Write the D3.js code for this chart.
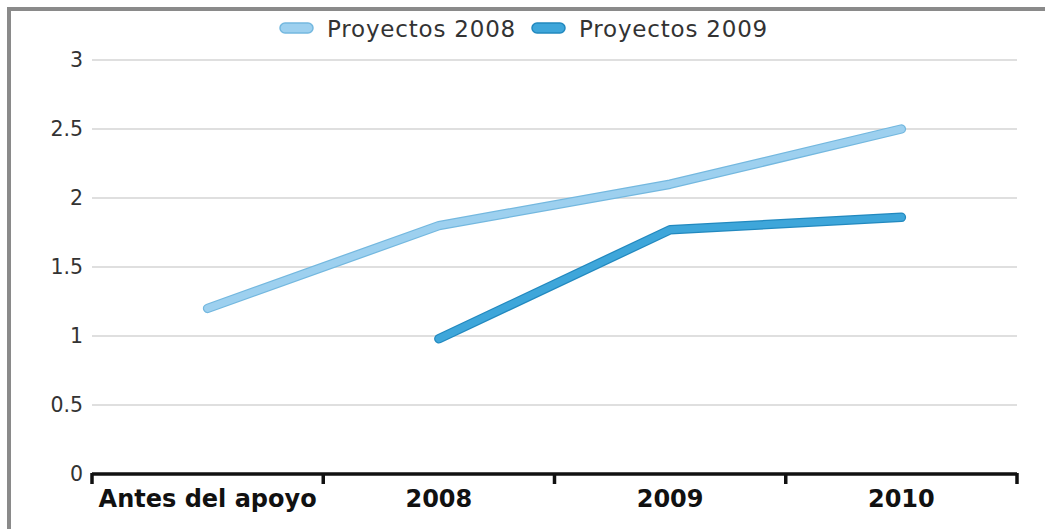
<!DOCTYPE html>
<html>
<head>
<meta charset="utf-8">
<script src="https://cdn.jsdelivr.net/npm/d3@7"></script>
<style>
  html, body { margin: 0; padding: 0; background: #fff; }
  svg { display: block; font-family: "DejaVu Sans", Verdana, sans-serif; }
</style>
</head>
<body>
<svg id="chart" width="1045" height="529"></svg>
<script>
// Categories and series
const categories = ["Antes del apoyo", "2008", "2009", "2010"];
const seriesNames = ["Proyectos 2008", "Proyectos 2009"];
const proyectos2008 = [1.2, 1.8, 2.1, 2.5];
const proyectos2009 = [null, 0.98, 1.77, 1.86];
const yTicks = [0, 0.5, 1, 1.5, 2, 2.5, 3];
const yTickLabels = ["0", "0.5", "1", "1.5", "2", "2.5", "3"];

const colors = [
  { fill: "#9dd0ef", edge: "#74b8df" },
  { fill: "#3ea6da", edge: "#2289bf" }
];

const svg = d3.select("#chart");
const W = 1045, H = 529;
const margin = { left: 92, right: 28, top: 60, bottom: 55 };

// Frame
svg.append("rect").attr("x", 0).attr("y", 0).attr("width", W).attr("height", H).attr("fill", "#fff");
svg.append("line").attr("x1", 7).attr("x2", W).attr("y1", 9).attr("y2", 9)
  .attr("stroke", "#8a8a8a").attr("stroke-width", 4);
svg.append("line").attr("x1", 9).attr("x2", 9).attr("y1", 7).attr("y2", H)
  .attr("stroke", "#8a8a8a").attr("stroke-width", 4);

const x = d3.scaleBand().domain(categories).range([margin.left, W - margin.right]).padding(0);
const y = d3.scaleLinear().domain([0, 3]).range([H - margin.bottom, margin.top]);

// Gridlines
svg.append("g").selectAll("line").data(yTicks.filter(d => d > 0)).join("line")
  .attr("x1", margin.left).attr("x2", W - margin.right)
  .attr("y1", d => y(d)).attr("y2", d => y(d))
  .attr("stroke", "#d4d4d4").attr("stroke-width", 1.5);

// Y axis labels
const yAxis = d3.axisLeft(y).tickValues(yTicks)
  .tickFormat((d, i) => yTickLabels[i]).tickSize(0).tickPadding(9);
const gy = svg.append("g").attr("transform", `translate(${margin.left},0)`).call(yAxis);
gy.select(".domain").remove();
gy.selectAll("text").attr("font-size", 20.5).attr("fill", "#333")
  .attr("font-family", "DejaVu Sans, Verdana, sans-serif");

// X axis
const x0 = H - margin.bottom;
const xAxisG = svg.append("g");
xAxisG.append("line").attr("x1", margin.left).attr("x2", W - margin.right)
  .attr("y1", x0).attr("y2", x0).attr("stroke", "#111").attr("stroke-width", 3.5);
const bounds = categories.map(c => x(c)).concat([x(categories[categories.length - 1]) + x.bandwidth()]);
xAxisG.selectAll("line.tick").data(bounds).join("line").attr("class", "tick")
  .attr("x1", d => d).attr("x2", d => d).attr("y1", x0 - 1).attr("y2", x0 + 10)
  .attr("stroke", "#111").attr("stroke-width", 3.5);
xAxisG.selectAll("text").data(categories).join("text")
  .attr("x", d => x(d) + x.bandwidth() / 2).attr("y", x0 + 33)
  .attr("text-anchor", "middle").attr("font-size", 24).attr("font-weight", "bold")
  .attr("fill", "#111").text(d => d);

// Lines
const line = d3.line()
  .defined(d => d.v !== null)
  .x(d => x(d.c) + x.bandwidth() / 2)
  .y(d => y(d.v));

[proyectos2008, proyectos2009].forEach((vals, i) => {
  const pts = categories.map((c, j) => ({ c, v: vals[j] }));
  svg.append("path").datum(pts).attr("d", line).attr("fill", "none")
    .attr("stroke", colors[i].edge).attr("stroke-width", 9.5)
    .attr("stroke-linecap", "round").attr("stroke-linejoin", "round");
  svg.append("path").datum(pts).attr("d", line).attr("fill", "none")
    .attr("stroke", colors[i].fill).attr("stroke-width", 7)
    .attr("stroke-linecap", "round").attr("stroke-linejoin", "round");
});

// Legend
const legendX = [280, 532];
const lg = svg.append("g");
seriesNames.forEach((name, i) => {
  lg.append("rect").attr("x", legendX[i]).attr("y", 23).attr("width", 33).attr("height", 10)
    .attr("rx", 5).attr("fill", colors[i].fill).attr("stroke", colors[i].edge).attr("stroke-width", 1.5);
  lg.append("text").attr("x", legendX[i] + 47).attr("y", 37)
    .attr("font-size", 23).attr("letter-spacing", 0.8).attr("fill", "#333").text(name);
});
</script>
</body>
</html>
